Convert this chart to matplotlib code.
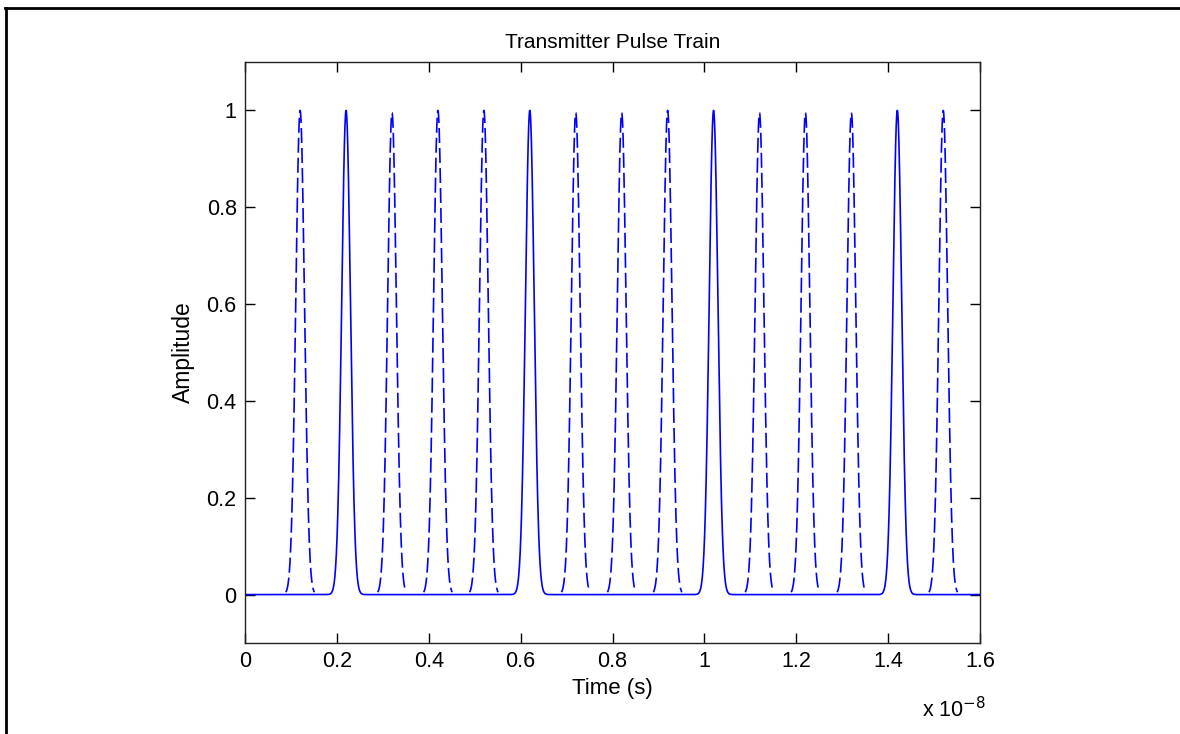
import matplotlib
matplotlib.use('Agg')
import matplotlib.pyplot as plt
from matplotlib.lines import Line2D
from matplotlib.ticker import FuncFormatter
import numpy as np

plt.rcParams['font.family'] = ['Liberation Sans', 'DejaVu Sans']

# pulse centres (x 1e-8 s), peak amplitudes and line style of each pulse
pulse_centers = [0.12, 0.22, 0.32, 0.42, 0.52, 0.62, 0.72, 0.82,
                 0.92, 1.02, 1.12, 1.22, 1.32, 1.42, 1.52]
pulse_peaks = [1.0, 1.0, 0.995, 1.0, 1.0, 1.0, 0.995, 0.995,
               1.0, 1.0, 0.995, 0.995, 0.995, 1.0, 1.0]
pulse_styles = ['--', '-', '--', '--', '--', '-', '--', '--',
                '--', '-', '--', '--', '--', '-', '--']
pulse_sigma = 0.0095

# breaks in the solid baseline (x 1e-8 s)
gap_start = [0.225, 0.630, 1.013, 1.392]
gap_end = [0.246, 0.645, 1.033, 1.406]

x_ticks = [0, 0.2, 0.4, 0.6, 0.8, 1.0, 1.2, 1.4, 1.6]
y_ticks = [0, 0.2, 0.4, 0.6, 0.8, 1.0]
scale = 1e-8


def pulse(t, c, a):
    return a * np.exp(-(t - c) ** 2 / (2 * pulse_sigma ** 2))


fig = plt.figure(figsize=(11.8, 7.34), dpi=100)
ax = fig.add_axes([245 / 1180, 1 - 643 / 734, 735 / 1180, 581 / 734])

# solid trace: baseline plus the solid pulses
t = np.linspace(0, 1.6, 4001)
y_solid = np.zeros_like(t)
for c, a, s in zip(pulse_centers, pulse_peaks, pulse_styles):
    if s == '-':
        y_solid += pulse(t, c, a)
for g0, g1 in zip(gap_start, gap_end):
    y_solid[(t > g0) & (t < g1) & (y_solid < 0.01)] = np.nan
ax.plot(t * scale, y_solid, color='blue', lw=1.2)

# dashed pulses drawn one by one
for c, a, s in zip(pulse_centers, pulse_peaks, pulse_styles):
    if s == '--':
        tp = np.linspace(c - 0.031, c + 0.031, 200)
        ax.plot(tp * scale, pulse(tp, c, a), color='blue', lw=1.2,
                linestyle=(0, (9, 3)))

ax.set_xlim(0, 1.6 * scale)
ax.set_ylim(-0.1, 1.1)
ax.set_xticks([v * scale for v in x_ticks])
ax.set_yticks(y_ticks)
ax.xaxis.set_major_formatter(FuncFormatter(lambda v, p: '%g' % round(v / scale, 2)))
ax.yaxis.set_major_formatter(FuncFormatter(lambda v, p: '%g' % v))
ax.tick_params(direction='in', length=7, width=1, top=True, right=True,
               labelsize=15.5, pad=6)
for sp in ax.spines.values():
    sp.set_linewidth(1)
    sp.set_color('#222222')

ax.set_title('Transmitter Pulse Train', fontsize=15, pad=10)
ax.set_xlabel('Time (s)', fontsize=16, labelpad=4)
ax.set_ylabel('Amplitude', fontsize=16.5, labelpad=8)
fig.text(922 / 1180, 1 - 710 / 734, 'x 10$^{-8}$', fontsize=15.5,
         ha='left', va='center')

# page frame
fig.add_artist(Line2D([5 / 1180, 1], [1 - 8 / 734, 1 - 8 / 734],
                      transform=fig.transFigure, color='black', lw=2))
fig.add_artist(Line2D([6 / 1180, 6 / 1180], [0, 1 - 8 / 734],
                      transform=fig.transFigure, color='black', lw=2))

fig.savefig('out.png', dpi=100)
